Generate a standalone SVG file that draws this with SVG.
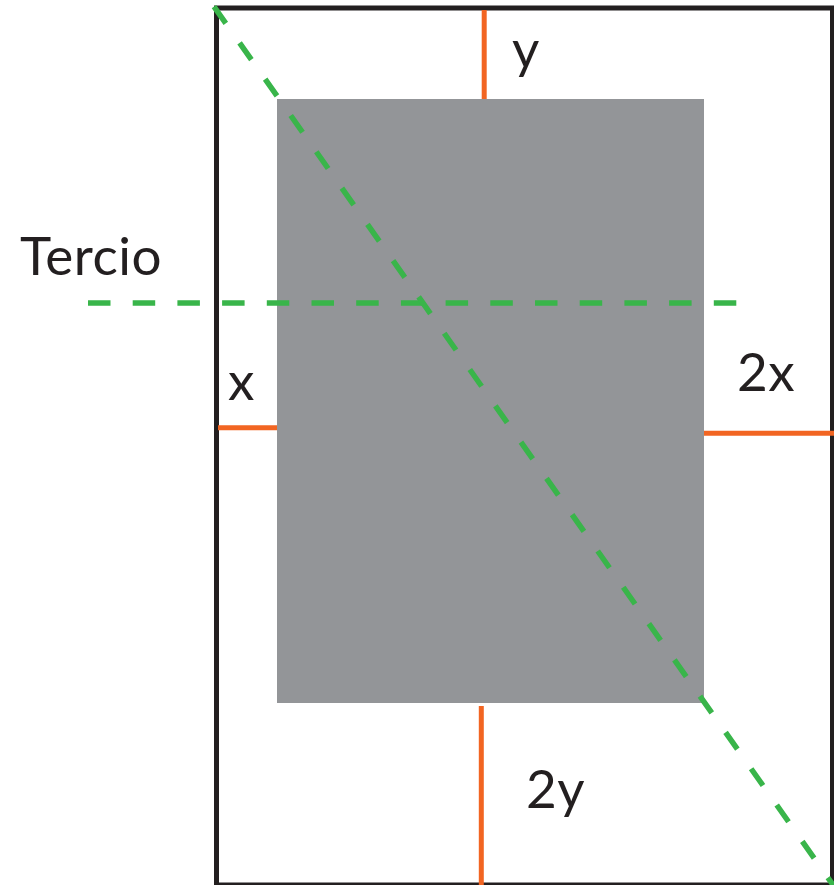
<svg xmlns="http://www.w3.org/2000/svg" width="834" height="885" viewBox="0 0 834 885">
<style>
.frame{fill:none;stroke:#231f20;stroke-width:5}
.block{fill:#939598}
.orange{stroke:#f26522;stroke-width:5;fill:none}
.green{stroke:#39b54a;stroke-width:5.5;fill:none}
.lbl{font-family:Lato,"Liberation Sans",sans-serif;font-size:53px;fill:#231f20;letter-spacing:0.5px}
</style>
<rect width="834" height="885" fill="#ffffff"/>
<g id="page">
<rect class="frame" x="216.5" y="8" width="616" height="877"/>
</g>
<g id="block">
<rect class="block" x="277" y="99" width="427" height="604"/>
</g>
<g id="connectors">
<line class="orange" x1="484.2" y1="10" x2="484.2" y2="99"/>
<line class="orange" x1="481.3" y1="706" x2="481.3" y2="885"/>
<line class="orange" x1="218" y1="427.8" x2="277" y2="427.8"/>
<line class="orange" x1="704" y1="433.2" x2="834" y2="433.2"/>
<line class="green" x1="88" y1="303" x2="737" y2="303" stroke-dasharray="22.5 22.2"/>
<line class="green" x1="214" y1="6.6" x2="834" y2="886.3" stroke-dasharray="20.5 23.9"/>
</g>
<g id="labels">
<text class="lbl" x="20" y="275">Tercio</text>
<text class="lbl" x="512" y="68">y</text>
<text class="lbl" x="228" y="400">x</text>
<text class="lbl" x="737" y="390.7">2x</text>
<text class="lbl" x="526" y="808">2y</text>
</g>
</svg>
